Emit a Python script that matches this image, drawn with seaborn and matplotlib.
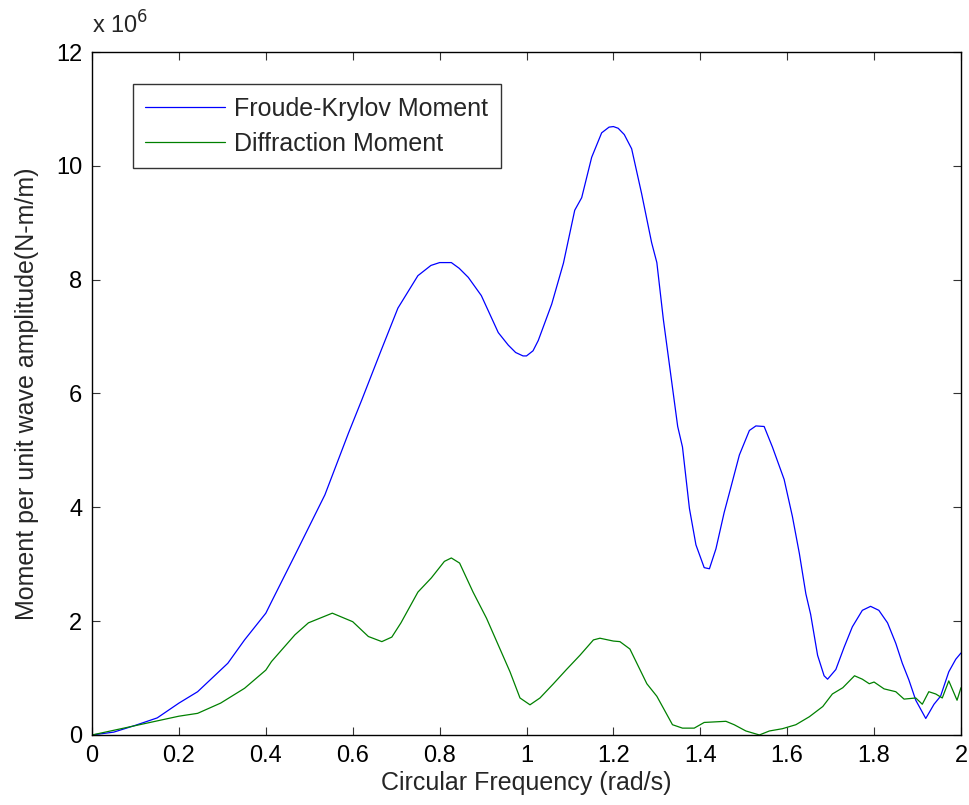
#!/usr/bin/env python3

import matplotlib
matplotlib.use('Agg')

import matplotlib.pyplot as plt
import numpy as np
import pandas as pd
import seaborn as sns

# ------------------------------------------------------------
#     Data (moments in units of 1e6 N-m/m)
# ------------------------------------------------------------

fk_freq = [0.0, 0.05, 0.1, 0.15, 0.2, 0.243, 0.3125, 0.351, 0.4, 0.413, 0.467,
           0.536, 0.59, 0.621, 0.665, 0.704, 0.75, 0.78, 0.8, 0.827, 0.845,
           0.866, 0.896, 0.935, 0.958, 0.975, 0.992, 1.0, 1.015, 1.027, 1.058,
           1.085, 1.111, 1.127, 1.15, 1.173, 1.19, 1.2, 1.211, 1.225, 1.242,
           1.265, 1.288, 1.3, 1.315, 1.348, 1.359, 1.375, 1.39, 1.409, 1.421,
           1.436, 1.455, 1.47, 1.49, 1.513, 1.528, 1.547, 1.566, 1.593, 1.612,
           1.628, 1.643, 1.654, 1.67, 1.685, 1.693, 1.712, 1.731, 1.75, 1.773,
           1.792, 1.811, 1.831, 1.85, 1.865, 1.88, 1.896, 1.919, 1.938, 1.953,
           1.972, 1.988, 2.0]
fk_moment = [0.0, 0.05, 0.17, 0.3, 0.56, 0.76, 1.26, 1.67, 2.14, 2.34, 3.16,
             4.22, 5.3, 5.89, 6.75, 7.5, 8.07, 8.25, 8.3, 8.3, 8.2,
             8.04, 7.72, 7.07, 6.85, 6.72, 6.66, 6.66, 6.75, 6.93, 7.57,
             8.29, 9.22, 9.44, 10.15, 10.58, 10.68, 10.69, 10.66, 10.55, 10.3,
             9.51, 8.65, 8.3, 7.3, 5.42, 5.06, 3.98, 3.34, 2.94, 2.92,
             3.27, 3.91, 4.34, 4.92, 5.35, 5.43, 5.42, 5.06, 4.49, 3.84,
             3.19, 2.48, 2.12, 1.4, 1.04, 0.98, 1.15, 1.54, 1.9, 2.19,
             2.26, 2.19, 1.97, 1.61, 1.26, 0.97, 0.61, 0.29, 0.54, 0.68,
             1.11, 1.33, 1.44]

dif_freq = [0.0, 0.073, 0.2, 0.243, 0.296, 0.351, 0.4, 0.413, 0.467, 0.498,
            0.553, 0.6, 0.636, 0.667, 0.69, 0.711, 0.75, 0.781, 0.811, 0.827,
            0.846, 0.877, 0.908, 0.935, 0.962, 0.985, 1.008, 1.031, 1.062,
            1.092, 1.123, 1.154, 1.169, 1.2, 1.215, 1.238, 1.277, 1.3, 1.336,
            1.359, 1.386, 1.409, 1.459, 1.478, 1.505, 1.536, 1.559, 1.589,
            1.62, 1.651, 1.682, 1.704, 1.728, 1.755, 1.773, 1.789, 1.8, 1.823,
            1.85, 1.869, 1.896, 1.911, 1.926, 1.942, 1.957, 1.972, 1.991, 2.0]
dif_moment = [0.0, 0.12, 0.33, 0.38, 0.56, 0.82, 1.14, 1.29, 1.76, 1.97,
              2.14, 1.99, 1.73, 1.64, 1.72, 1.97, 2.51, 2.76, 3.05, 3.11,
              3.02, 2.51, 2.05, 1.58, 1.11, 0.65, 0.53, 0.65, 0.9,
              1.15, 1.4, 1.67, 1.7, 1.65, 1.64, 1.51, 0.9, 0.68, 0.18,
              0.12, 0.12, 0.22, 0.24, 0.18, 0.07, 0.0, 0.07, 0.11,
              0.18, 0.32, 0.5, 0.72, 0.83, 1.04, 0.98, 0.9, 0.93, 0.81,
              0.76, 0.63, 0.65, 0.54, 0.76, 0.72, 0.65, 0.95, 0.61, 0.83]

x_ticks = [0, 0.2, 0.4, 0.6, 0.8, 1.0, 1.2, 1.4, 1.6, 1.8, 2.0]
x_tick_labels = ["0", "0.2", "0.4", "0.6", "0.8", "1", "1.2", "1.4", "1.6", "1.8", "2"]
y_ticks = [0, 2, 4, 6, 8, 10, 12]

# ------------------------------------------------------------
#     Plotting
# ------------------------------------------------------------

sns.set_style("white")
plt.rcParams['font.family'] = ['Liberation Sans', 'DejaVu Sans']

fig = plt.figure(figsize=(9.69, 8.05), dpi=100)
ax = fig.add_axes([0.095, 0.087, 0.8967, 0.8484])

fk = pd.DataFrame({'freq': fk_freq, 'moment': fk_moment})
dif = pd.DataFrame({'freq': dif_freq, 'moment': dif_moment})

sns.lineplot(data=fk, x='freq', y='moment', ax=ax, color=(0, 0, 1),
             linewidth=0.9, label='Froude-Krylov Moment', estimator=None)
sns.lineplot(data=dif, x='freq', y='moment', ax=ax, color=(0, 0.5, 0),
             linewidth=0.9, label='Diffraction Moment', estimator=None)

ax.set_xlim(0, 2)
ax.set_ylim(0, 12)
ax.set_xticks(x_ticks)
ax.set_xticklabels(x_tick_labels)
ax.set_yticks(y_ticks)
ax.set_yticklabels([str(v) for v in y_ticks])

ax.tick_params(direction='in', length=6, width=0.8, colors='#333333',
               labelcolor='black', labelsize=17, top=True, right=True,
               bottom=True, left=True, pad=7)
for sp in ax.spines.values():
    sp.set_color('black')
    sp.set_linewidth(1.0)

ax.set_xlabel('Circular Frequency (rad/s)', fontsize=18, labelpad=3)
ax.set_ylabel('Moment per unit wave amplitude(N-m/m)', fontsize=18, labelpad=12)

# exponent marker, MATLAB style
ax.text(0.0, 1.02, r'x 10$^{6}$', transform=ax.transAxes, fontsize=17,
        ha='left', va='bottom')

leg = ax.legend(loc='upper left', bbox_to_anchor=(0.047, 0.953), fontsize=18,
                frameon=True, fancybox=False, edgecolor='black',
                handlelength=3.2, handletextpad=0.35, borderpad=0.5,
                labelspacing=0.45, borderaxespad=0.0)
leg.get_frame().set_linewidth(1.0)

plt.savefig('out.png', dpi=100)
